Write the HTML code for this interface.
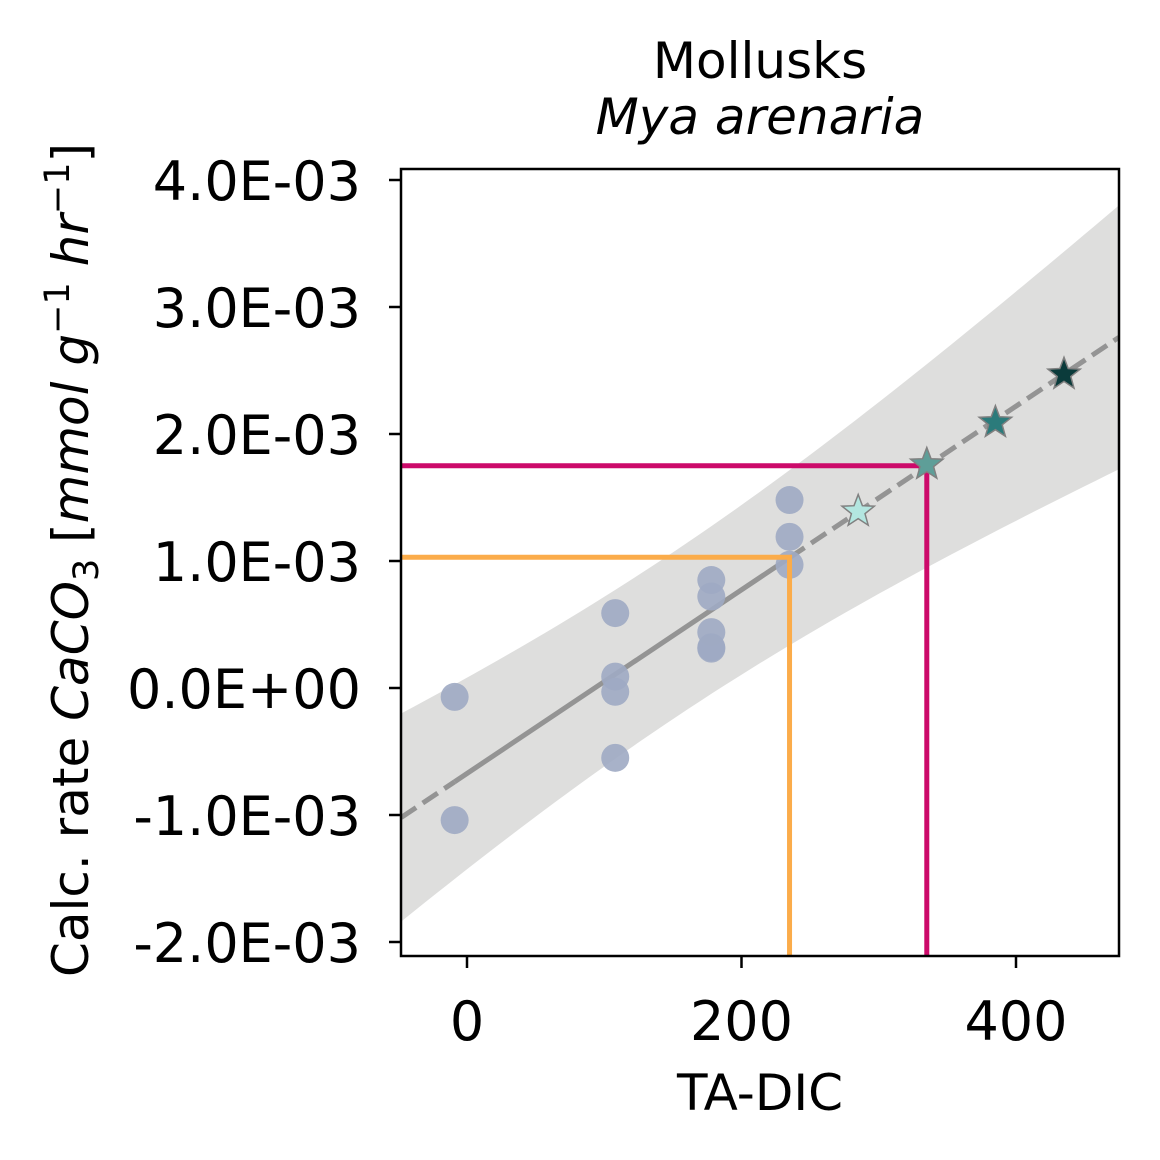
<!DOCTYPE html>
<html><head><meta charset="utf-8"><style>
body{margin:0;background:#fff;position:relative}
svg{display:block;font-family:"DejaVu Sans","Liberation Sans",sans-serif}
</style></head><body>
<svg id="chart" width="1160" height="1160" xmlns="http://www.w3.org/2000/svg"></svg>
<script>
const circX=[-9,-9,108,108,108,108,178,178,178,178,178,235,235,235];
const circY=[-0.07,-1.04,0.59,0.09,-0.03,-0.55,0.85,0.72,0.44,0.32,0.31,1.48,1.19,0.97];
const starX=[285,335,385,435];
const starY=[1.39,1.76,2.09,2.47];
const starColors=['#b3e6e0','#5e9e98','#2b7b7b','#0b3b3b'];
const xTicks=[0,200,400];
const yTicks=[-2,-1,0,1,2,3,4];
const yTickLabels=['-2.0E-03','-1.0E-03','0.0E+00','1.0E-03','2.0E-03','3.0E-03','4.0E-03'];
const fitSlope=0.00723, fitIntercept=-0.673;
const ciA=0.431, ciB=6.14e-6, ciXm=150;
const orangeX=235, orangeY=1.03, magentaX=335, magentaY=1.75;

const L=401,R=1119,T=169,B=956;
const sx=v=>467+(v)*1.3725;
const sy=v=>688-v*127;
const xMin=-48,xMax=475;
const svg=document.getElementById('chart');
const NS='http://www.w3.org/2000/svg';
function mk(tag,attrs,parent){const e=document.createElementNS(NS,tag);for(const k in attrs)e.setAttribute(k,attrs[k]);(parent||svg).appendChild(e);return e;}

const clip=mk('clipPath',{id:'pc'});mk('rect',{x:L,y:T,width:R-L,height:B-T},clip);
const g=mk('g',{'clip-path':'url(#pc)'});



let up=[],lo=[];
for(let i=0;i<=60;i++){const x=xMin+(xMax-xMin)*i/60;const m=fitIntercept+fitSlope*x;const h=Math.sqrt(ciA+ciB*(x-ciXm)**2);up.push(sx(x)+','+sy(m+h));lo.unshift(sx(x)+','+sy(m-h));}
const band=mk('polygon',{points:up.concat(lo).join(' '),fill:'#dededd'},g);



const f=x=>fitIntercept+fitSlope*x;
const d1=mk('line',{x1:sx(xMin),y1:sy(f(xMin)),x2:sx(-9),y2:sy(f(-9)),stroke:'#949494','stroke-width':5,'stroke-dasharray':'18 8'},g);


const s1=mk('line',{x1:sx(-9),y1:sy(f(-9)),x2:sx(235),y2:sy(f(235)),stroke:'#949494','stroke-width':5},g);


const d2=mk('line',{x1:sx(235),y1:sy(f(235)),x2:sx(xMax),y2:sy(f(xMax)),stroke:'#949494','stroke-width':5,'stroke-dasharray':'18 8'},g);



circX.forEach((x,i)=>{const c=mk('circle',{cx:sx(x),cy:sy(circY[i]),r:14,fill:'#9eaac3','fill-opacity':0.9},g);

});

const o=mk('polyline',{points:`${L},${sy(orangeY)} ${sx(orangeX)},${sy(orangeY)} ${sx(orangeX)},${B}`,fill:'none',stroke:'#fbac4a','stroke-width':5},g);


const m=mk('polyline',{points:`${L},${sy(magentaY)} ${sx(magentaX)},${sy(magentaY)} ${sx(magentaX)},${B}`,fill:'none',stroke:'#cc0a6a','stroke-width':5},g);



function starPts(cx,cy,r){let p=[];for(let i=0;i<10;i++){const a=-Math.PI/2+i*Math.PI/5;const rr=i%2?r*0.42:r;p.push((cx+rr*Math.cos(a)).toFixed(1)+','+(cy+rr*Math.sin(a)).toFixed(1));}return p.join(' ');}
starX.forEach((x,i)=>{const s=mk('polygon',{points:starPts(sx(x),sy(starY[i]),17),fill:starColors[i],stroke:'#808080','stroke-width':1.5},g);

});

const fr=mk('rect',{x:L,y:T,width:R-L,height:B-T,fill:'none',stroke:'#000','stroke-width':2.5});



xTicks.forEach(v=>{const x=sx(v);mk('line',{x1:x,y1:B,x2:x,y2:B+12,stroke:'#000','stroke-width':2.5});
const t=mk('text',{x:x,y:1040,'font-size':54,'text-anchor':'middle'});t.textContent=v;

});
yTicks.forEach((v,i)=>{const y=sy(v);mk('line',{x1:L-12,y1:y,x2:L,y2:y,stroke:'#000','stroke-width':2.5});
const t=mk('text',{x:361,y:y+20,'font-size':54,'text-anchor':'end'});t.textContent=yTickLabels[i];

});
</script>
<svg style="position:absolute;left:0;top:0" width="1160" height="1160">
<text x="760" y="78" font-size="50" text-anchor="middle">Mollusks</text>
<text x="760" y="134" font-size="50" text-anchor="middle" font-style="italic">Mya arenaria</text>
<text x="760" y="1110" font-size="50" text-anchor="middle">TA-DIC</text>
<text transform="translate(88,560) rotate(-90)" font-size="50" text-anchor="middle">Calc. rate <tspan font-style="italic">CaCO</tspan><tspan font-size="35" dy="10">3</tspan><tspan dy="-10"> [</tspan><tspan font-style="italic">mmol g</tspan><tspan font-size="35" dy="-19">−1</tspan><tspan dy="19" font-style="italic"> hr</tspan><tspan font-size="35" dy="-19">−1</tspan><tspan dy="19">]</tspan></text>
</svg>
</body></html>
